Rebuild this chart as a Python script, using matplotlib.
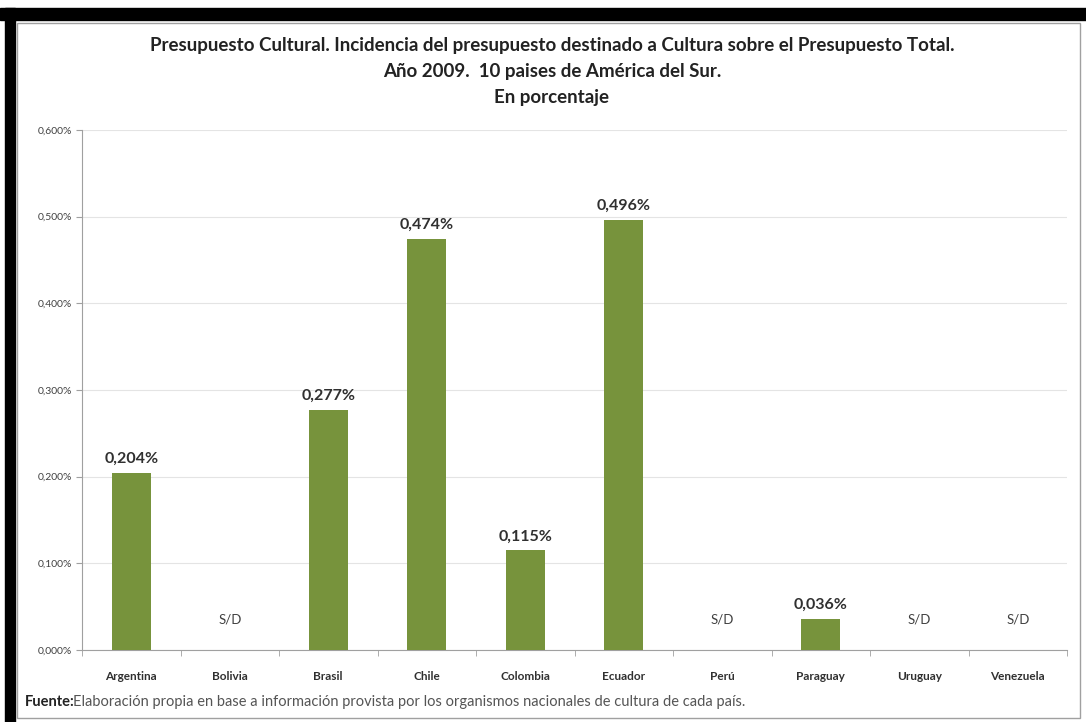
import matplotlib
matplotlib.use('Agg')
import numpy as np
from matplotlib import pyplot as plt
from matplotlib.patches import Rectangle

paises = ['Argentina', 'Bolivia', 'Brasil', 'Chile', 'Colombia', 'Ecuador',
          'Perú', 'Paraguay', 'Uruguay', 'Venezuela']
valores = [0.204, None, 0.277, 0.474, 0.115, 0.496, None, 0.036, None, None]
etiquetas = ['0,204%', 'S/D', '0,277%', '0,474%', '0,115%', '0,496%',
             'S/D', '0,036%', 'S/D', 'S/D']
ticks_y = [0.0, 0.1, 0.2, 0.3, 0.4, 0.5, 0.6]
ticks_y_txt = ['0,000%', '0,100%', '0,200%', '0,300%', '0,400%', '0,500%', '0,600%']

plt.rcParams['font.family'] = ['Lato', 'DejaVu Sans']

W, H = 1086, 722
fig = plt.figure(figsize=(W / 100, H / 100), dpi=100)

# marco negro y borde gris
fig.patches.append(Rectangle((0, 1 - 20 / H), 1, 12 / H, transform=fig.transFigure,
                             color='black', zorder=0))
fig.patches.append(Rectangle((5 / W, 0), 10 / W, 1 - 8 / H, transform=fig.transFigure,
                             color='black', zorder=0))
fig.patches.append(Rectangle((17 / W, 4 / H), (W - 23) / W, (H - 27) / H,
                             transform=fig.transFigure, fill=False,
                             edgecolor='#a0a0a0', lw=1, zorder=0))

ax = fig.add_axes([82 / W, (H - 650) / H, (1067 - 82) / W, (650 - 130) / H])

x = np.arange(len(paises))
y = [v if v is not None else 0 for v in valores]
ax.bar(x, y, width=0.4, color='#77933C', zorder=3)

for i, v in enumerate(valores):
    if v is None:
        ax.text(x[i], 0.035, etiquetas[i], ha='center', va='center',
                fontsize=9.5, color='#404040')
    else:
        ax.text(x[i], v + 0.008, etiquetas[i], ha='center', va='bottom',
                fontsize=11.5, fontweight='bold', color='#303030')

ax.set_xlim(-0.5, len(paises) - 0.5)
ax.set_ylim(0, 0.6)
ax.set_yticks(ticks_y)
ax.set_yticklabels(ticks_y_txt, fontsize=7.5, color='#404040')
ax.set_xticks(x)
ax.set_xticklabels(paises, fontsize=8.5, fontweight='bold', color='#303030')
ax.set_xticks(np.arange(len(paises) + 1) - 0.5, minor=True)
ax.tick_params(axis='x', which='major', length=0, pad=15)
ax.tick_params(axis='x', which='minor', length=4, color='#a0a0a0')
ax.tick_params(axis='y', length=4, color='#a0a0a0', pad=3)
ax.grid(axis='y', color='#e4e4e4', lw=0.8, zorder=0)
for s in ['top', 'right']:
    ax.spines[s].set_visible(False)
ax.spines['left'].set_color('#a0a0a0')
ax.spines['bottom'].set_color('#a0a0a0')

fig.text(552 / W, 1 - 45 / H,
         'Presupuesto Cultural. Incidencia del presupuesto destinado a Cultura sobre el Presupuesto Total.',
         ha='center', va='center', fontsize=13.5, fontweight='bold', color='#222222')
fig.text(552 / W, 1 - 71 / H, 'Año 2009.  10 paises de América del Sur.',
         ha='center', va='center', fontsize=13.5, fontweight='bold', color='#222222')
fig.text(552 / W, 1 - 97 / H, 'En porcentaje',
         ha='center', va='center', fontsize=13.5, fontweight='bold', color='#222222')

fig.text(25 / W, 1 - 702 / H, 'Fuente:', ha='left', va='center',
         fontsize=10.5, fontweight='bold', color='#222222')
fig.text(73 / W, 1 - 702 / H,
         'Elaboración propia en base a información provista por los organismos nacionales de cultura de cada país.',
         ha='left', va='center', fontsize=10.5, color='#555555')

fig.savefig('out.png', dpi=100)
